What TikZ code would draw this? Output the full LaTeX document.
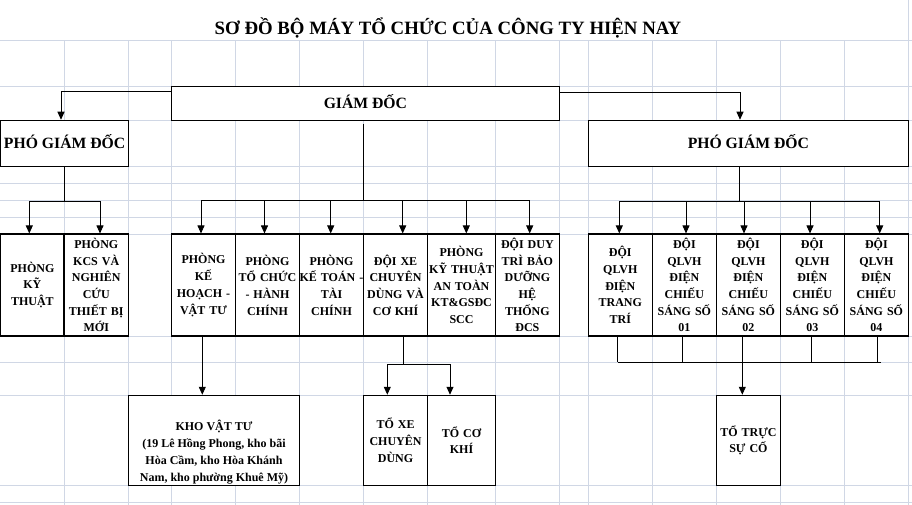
\documentclass[tikz,border=0pt]{standalone}
\usepackage{fontspec}
\setmainfont{Liberation Serif}
\usetikzlibrary{arrows.meta,calc}
\definecolor{gridc}{RGB}{208,215,229}
\begin{document}
\begin{tikzpicture}[x=1pt,y=-1pt,
  gridline/.style={draw=gridc,line width=0.8pt},
  boxbase/.style={draw=black,line width=1.1pt,fill=white,inner sep=0pt},
  cell/.style 2 args={boxbase,align=center,text width=#1pt,minimum height=#2pt,font=\fontsize{12}{16.7}\selectfont\bfseries},
  bigbox/.style 2 args={boxbase,minimum width=#1pt,minimum height=#2pt,text height=10.4pt,text depth=0pt,font=\fontsize{15.7}{19}\selectfont\bfseries},
  plainbox/.style 2 args={boxbase,minimum width=#1pt,minimum height=#2pt},
  txt/.style={inner sep=0pt,align=center,font=\fontsize{12}{16.9}\selectfont\bfseries},
  conn/.style={draw=black,line width=0.9pt},
  arr/.style={conn,-{Triangle[width=7pt,length=8pt]}},
]
\useasboundingbox (0,0) rectangle (912,505);
% grid
\foreach \gx in {64,128.5,171.5,235.5,299.5,363.5,427.5,495.5,559.3,588.3,652.3,716.5,780.3,844.3}
  \draw[gridline] (\gx,40.7) -- (\gx,505);
\draw[gridline] (908.5,0) -- (908.5,505);
\foreach \gy in {40.7,86.7,120.3,166.3,183,200.7,217.3,234,336,362.7,395.3,485.3,502.7}
  \draw[gridline] (0,\gy) -- (912,\gy);

% title
\node[anchor=base,inner sep=0pt,font=\fontsize{18.8}{22}\selectfont\bfseries] (title) at (448,35) {SƠ ĐỒ BỘ MÁY TỔ CHỨC CỦA CÔNG TY HIỆN NAY};

% top level
\node[bigbox={387.8}{33.6}] (gd) at (365.4,103.5) {GIÁM ĐỐC};
\node[bigbox={127.8}{46}] (pgdL) at (64.6,143.3) {PHÓ GIÁM ĐỐC};
\node[bigbox={320.2}{46}] (pgdR) at (748.4,143.3) {PHÓ GIÁM ĐỐC};

% second row
\node[cell={63.3}{102}] (kt) at (32.35,285) {PHÒNG\\KỸ\\THUẬT};
\node[cell={64.5}{102}] (kcs) at (96.25,285) {PHÒNG\\KCS VÀ\\NGHIÊN\\CỨU\\THIẾT BỊ\\MỚI};
\node[cell={64}{102}] (kh) at (203.5,285) {PHÒNG\\KẾ\\HOẠCH -\\VẬT TƯ};
\node[cell={64}{102}] (tc) at (267.5,285) {PHÒNG\\TỔ CHỨC\\- HÀNH\\CHÍNH};
\node[cell={64}{102}] (ktoan) at (331.5,285) {PHÒNG\\KẾ TOÁN -\\TÀI\\CHÍNH};
\node[cell={64}{102}] (xe) at (395.5,285) {ĐỘI XE\\CHUYÊN\\DÙNG VÀ\\CƠ KHÍ};
\node[cell={68}{102}] (ktat) at (461.5,285) {PHÒNG\\KỸ THUẬT\\AN TOÀN\\KT\&GSĐC\\SCC};
\node[cell={63.8}{102}] (duytri) at (527.4,285) {ĐỘI DUY\\TRÌ BẢO\\DƯỠNG\\HỆ\\THỐNG\\ĐCS};
\node[cell={64}{102}] (tt) at (620.3,285) {ĐỘI\\QLVH\\ĐIỆN\\TRANG\\TRÍ};
\node[cell={64.2}{102}] (d1) at (684.4,285) {ĐỘI\\QLVH\\ĐIỆN\\CHIẾU\\SÁNG SỐ\\01};
\node[cell={63.8}{102}] (d2) at (748.4,285) {ĐỘI\\QLVH\\ĐIỆN\\CHIẾU\\SÁNG SỐ\\02};
\node[cell={64}{102}] (d3) at (812.3,285) {ĐỘI\\QLVH\\ĐIỆN\\CHIẾU\\SÁNG SỐ\\03};
\node[cell={64.2}{102}] (d4) at (876.4,285) {ĐỘI\\QLVH\\ĐIỆN\\CHIẾU\\SÁNG SỐ\\04};

% third row
\node[plainbox={171}{90}] (kho) at (214,440.3) {};
\node[txt] (khotext) at (214,452) {KHO VẬT TƯ\\(19 Lê Hồng Phong, kho bãi\\Hòa Cầm, kho Hòa Khánh\\Nam, kho phường Khuê Mỹ)};
\node[cell={64}{90}] (toxe) at (395.5,440.3) {TỔ XE\\CHUYÊN\\DÙNG};
\node[cell={68}{90}] (toco) at (461.5,440.3) {TỔ CƠ\\KHÍ};
\node[cell={63.8}{90}] (totruc) at (748.4,440.3) {TỔ TRỰC\\SỰ CỐ};

% connectors: director to deputies
\coordinate (gL) at (61,91.3);
\draw[arr] (gL -| gd.west) -- (gL) -- (gL |- pgdL.north);
\coordinate (gR) at (740,92.3);
\draw[arr] (gR -| gd.east) -- (gR) -- (gR |- pgdR.north);

% left deputy bus
\coordinate (lb) at (64,201.3);
\coordinate (lb1) at (29.3,201.3);
\coordinate (lb2) at (100,201.3);
\draw[conn] (lb |- pgdL.south) -- (lb);
\draw[conn] (lb1) -- (lb2);
\draw[arr] (lb1) -- (lb1 |- kt.north);
\draw[arr] (lb2) -- (lb2 |- kcs.north);

% director bus
\coordinate (cb) at (363.3,200.3);
\draw[conn] ($(cb |- gd.south)+(0,3)$) -- (cb);
\coordinate (cb1) at (201,200.3);
\coordinate (cb2) at (530,200.3);
\draw[conn] (cb1) -- (cb2);
\foreach \xx/\nm in {201/kh,264.5/tc,330.7/ktoan,402.7/xe,466.3/ktat,529.7/duytri}{
  \coordinate (t) at (\xx,200.3);
  \draw[arr] (t) -- (t |- \nm.north);
}

% right deputy bus
\coordinate (rb) at (739.3,201.5);
\draw[conn] (rb |- pgdR.south) -- (rb);
\coordinate (rb1) at (619.3,201.5);
\coordinate (rb2) at (880,201.5);
\draw[conn] (rb1) -- (rb2);
\foreach \xx/\nm in {619.3/tt,686/d1,744/d2,810/d3,879.7/d4}{
  \coordinate (t) at (\xx,201.5);
  \draw[arr] (t) -- (t |- \nm.north);
}

% planning to warehouse
\coordinate (khc) at (202.3,370);
\draw[arr] (khc |- kh.south) -- (khc |- kho.north);

% vehicle team bus
\coordinate (xb) at (403.3,364.3);
\coordinate (xb1) at (387.3,364.3);
\coordinate (xb2) at (450,364.3);
\draw[conn] (xb |- xe.south) -- (xb);
\draw[conn] (xb1) -- (xb2);
\draw[arr] (xb1) -- (xb1 |- toxe.north);
\draw[arr] (xb2) -- (xb2 |- toco.north);

% right bottom bus
\coordinate (bb) at (742.3,362.3);
\coordinate (bb1) at (617.7,362.3);
\coordinate (bb2) at (880.7,362.3);
\foreach \xx/\nm in {617.7/tt,682.3/d1,742.3/d2,811.7/d3,877.7/d4}{
  \coordinate (t) at (\xx,362.3);
  \draw[conn] (t |- \nm.south) -- (t);
}
\draw[conn] (bb1) -- (bb2);
\draw[arr] (bb) -- (bb |- totruc.north);
\end{tikzpicture}
\end{document}
